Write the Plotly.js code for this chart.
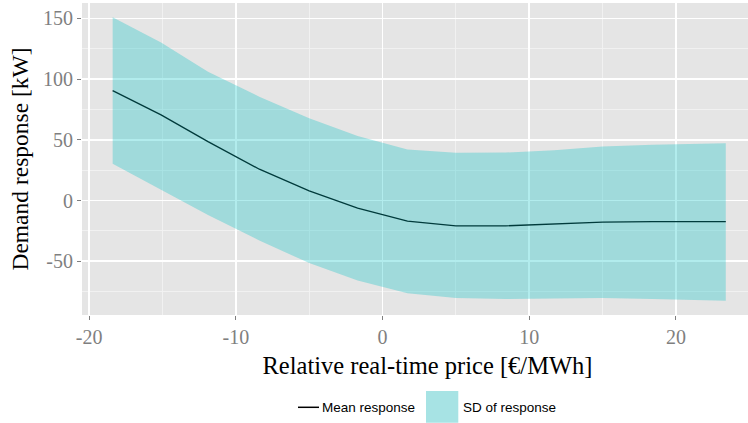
<!DOCTYPE html>
<html>
<head>
<meta charset="utf-8">
<script src="https://cdn.plot.ly/plotly-3.0.1.min.js"></script>
<style>
  html, body { margin: 0; padding: 0; background: #ffffff; overflow: hidden; }
  #frame { width: 748px; height: 423px; overflow: hidden; }
</style>
</head>
<body>
<div id="frame"><div id="chart"></div></div>
<script>
// Relative real-time price bins [€/MWh]
const price = [-18.4, -15.1, -11.9, -8.4, -5.0, -1.7, 1.7, 5.0, 8.4, 11.7, 15.0, 18.4, 23.4];
// Mean demand response [kW]
const meanResponse = [90.5, 70.5, 48.5, 25.8, 8.0, -6.3, -17.0, -20.8, -20.8, -19.3, -17.8, -17.3, -17.3];
// Mean ± one standard deviation [kW]
const sdUpper = [150.8, 130.0, 106.0, 85.5, 67.8, 53.2, 42.0, 39.3, 39.5, 41.5, 44.5, 46.0, 47.2];
const sdLower = [30.2, 8.8, -11.8, -32.9, -51.5, -65.8, -76.2, -80.3, -81.0, -80.7, -80.3, -81.0, -82.5];

// Axis ticks
const xTickVals = [-20, -10, 0, 10, 20];
const xTickText = ['-20', '-10', '0', '10', '20'];
const xMinorVals = [-15, -5, 5, 15, 25];
const yTickVals = [-50, 0, 50, 100, 150];
const yTickText = ['-50', '0', '50', '100', '150'];
const yMinorVals = [-75, -25, 25, 75, 125];

const legendLabels = ['Mean response', 'SD of response'];

// The figure is laid out a little wider than the visible frame; the right edge is clipped.
const W = 773, H = 423;
const M = { l: 82, r: 0, t: 3, b: 108 };
// pixel -> paper helpers for the legend block below the panel
const px = v => (v - M.l) / (W - M.l - M.r);
const py = v => (H - M.b - v) / (H - M.t - M.b);

const ribbonFill = 'rgba(0,191,196,0.3)';

const traces = [
  {
    x: price, y: meanResponse, type: 'scatter', mode: 'lines',
    line: { color: '#000000', width: 1.3 },
    name: legendLabels[0], hoverinfo: 'skip'
  },
  {
    x: price, y: sdLower, type: 'scatter', mode: 'lines',
    line: { width: 0, color: 'rgba(0,0,0,0)' },
    showlegend: false, hoverinfo: 'skip'
  },
  {
    x: price, y: sdUpper, type: 'scatter', mode: 'lines',
    fill: 'tonexty', fillcolor: ribbonFill,
    line: { width: 0, color: 'rgba(0,0,0,0)' },
    name: legendLabels[1], hoverinfo: 'skip'
  }
];

const serif = 'Liberation Serif, Times New Roman, serif';
const tickFont = { family: serif, size: 20, color: '#7F7F7F' };
const legendFont = { family: 'Liberation Sans, Arial, sans-serif', size: 13.5, color: '#000000' };

const layout = {
  width: W, height: H,
  margin: M,
  paper_bgcolor: '#ffffff',
  plot_bgcolor: '#E5E5E5',
  showlegend: false,
  xaxis: {
    range: [-20.49, 26.62],
    tickmode: 'array', tickvals: xTickVals, ticktext: xTickText,
    ticks: 'outside', ticklen: 4, tickwidth: 1, tickcolor: '#7F7F7F',
    tickfont: tickFont,
    showgrid: true, gridcolor: '#FFFFFF', gridwidth: 1.6,
    minor: { tickmode: 'array', tickvals: xMinorVals, showgrid: true, gridcolor: '#F2F2F2', gridwidth: 0.9, ticks: '' },
    zeroline: false, showline: false,
    title: { text: 'Relative real-time price [€/MWh]', font: { family: serif, size: 24.5, color: '#000000' }, standoff: 9 }
  },
  yaxis: {
    range: [-94.2, 162.6],
    tickmode: 'array', tickvals: yTickVals, ticktext: yTickText,
    ticks: 'outside', ticklen: 4, tickwidth: 1, tickcolor: '#7F7F7F',
    tickfont: tickFont,
    showgrid: true, gridcolor: '#FFFFFF', gridwidth: 1.6,
    minor: { tickmode: 'array', tickvals: yMinorVals, showgrid: true, gridcolor: '#F2F2F2', gridwidth: 0.9, ticks: '' },
    zeroline: false, showline: false,
    title: { text: 'Demand response [kW]', font: { family: serif, size: 23.5, color: '#000000' }, standoff: 7 }
  },
  shapes: [
    // legend key: mean line
    { type: 'line', xref: 'paper', yref: 'paper', x0: px(298), x1: px(319), y0: py(407.3), y1: py(407.3),
      line: { color: '#000000', width: 1.5 } },
    // legend key: SD ribbon
    { type: 'rect', xref: 'paper', yref: 'paper', x0: px(426), x1: px(458.3), y0: py(422.7), y1: py(391),
      fillcolor: 'rgb(167,227,228)', line: { width: 0 } }
  ],
  annotations: [
    { xref: 'paper', yref: 'paper', x: px(320), y: py(407.5), xanchor: 'left', yanchor: 'middle',
      text: legendLabels[0], showarrow: false, font: legendFont },
    { xref: 'paper', yref: 'paper', x: px(461), y: py(407.5), xanchor: 'left', yanchor: 'middle',
      text: legendLabels[1], showarrow: false, font: legendFont }
  ]
};

Plotly.newPlot('chart', traces, layout, { displayModeBar: false, staticPlot: true });
</script>
</body>
</html>
